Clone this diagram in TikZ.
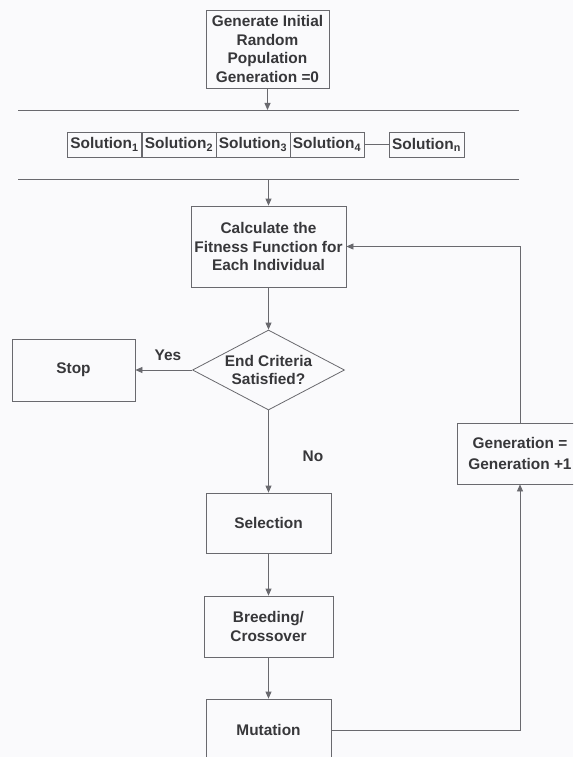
\documentclass[tikz,border=0pt]{standalone}
\usepackage{fontspec}
\setmainfont{Liberation Sans}
\usetikzlibrary{arrows.meta,shapes.geometric}
\definecolor{paper}{RGB}{250,250,252}
\definecolor{ink}{RGB}{55,55,58}
\definecolor{wire}{RGB}{105,105,110}
\tikzset{
  every node/.style={text=ink, font=\fontsize{15.4}{18.4}\selectfont\bfseries},
  procbox/.style={draw=wire, line width=0.8pt, rectangle, align=center, inner sep=0pt},
  solbox/.style={draw=wire, line width=0.8pt, rectangle, inner sep=0pt,
    minimum width=74pt, minimum height=25pt},
  decision/.style={draw=wire, line width=0.8pt, diamond, aspect=1.9, inner sep=0pt,
    align=center, minimum width=152pt, minimum height=80pt},
  wireline/.style={draw=wire, line width=0.8pt},
  arr/.style={wireline, -{Triangle[length=7pt,width=6pt]}},
  tag/.style={inner sep=0pt}
}
\begin{document}
\begin{tikzpicture}[x=1pt,y=-1pt]
  \useasboundingbox (0,0) rectangle (573,757);
  \clip (0,0) rectangle (573,757);
  \fill[paper] (0,0) rectangle (573,757);

  % initial population
  \node[procbox, minimum width=123pt, minimum height=78pt] (init) at (267.5,49)
    {Generate Initial\\Random\\Population\\Generation =0};

  % separator lines framing the population
  \coordinate (l1a) at (18,110);
  \coordinate (l1b) at (519,110);
  \coordinate (l2a) at (18,179);
  \coordinate (l2b) at (519,179);
  \draw[wireline] (l1a) -- (l1b);
  \draw[wireline] (l2a) -- (l2b);
  \draw[arr] (init.south) -- (init.south |- l1a);

  % population members
  \node[solbox] (s1) at (104.5,144.5) {Solution\textsubscript{1}};
  \node[solbox] (s2) at (179,144.5) {Solution\textsubscript{2}};
  \node[solbox] (s3) at (253,144.5) {Solution\textsubscript{3}};
  \node[solbox] (s4) at (327,144.5) {Solution\textsubscript{4}};
  \node[solbox, minimum width=75pt] (sn) at (426.5,144.5) {Solution\textsubscript{n}};
  \draw[wireline] (s4.east) -- (sn.west);

  % fitness evaluation
  \node[procbox, minimum width=155pt, minimum height=81pt] (calc) at (268.5,246.5)
    {Calculate the\\Fitness Function for\\Each Individual};
  \draw[arr] (calc.north |- l2a) -- (calc.north);

  % termination test
  \node[decision] (test) at (268.5,370) {End Criteria\\Satisfied?};
  \draw[arr] (calc.south) -- (test.north);

  \node[procbox, minimum width=123pt, minimum height=62pt] (stop) at (73.5,370) {Stop};
  \draw[arr] (test.west) -- (stop.east);
  \node[tag] (yes) at (168,355) {Yes};

  % genetic operators
  \node[procbox, minimum width=125pt, minimum height=60pt] (sel) at (268.5,523) {Selection};
  \draw[arr] (test.south) -- (sel.north);
  \node[tag] (no) at (313,456) {No};

  \node[procbox, minimum width=129pt, minimum height=61pt] (breed) at (268.5,626.5)
    {Breeding/\\Crossover};
  \draw[arr] (sel.south) -- (breed.north);

  \node[procbox, minimum width=125pt, minimum height=62pt] (mut) at (268.5,730) {Mutation};
  \draw[arr] (breed.south) -- (mut.north);

  % next generation loop
  \node[procbox, minimum width=126pt, minimum height=61pt,
        font=\fontsize{15.4}{20.5}\selectfont\bfseries] (gen) at (520,453.5)
    {Generation =\\Generation +1};
  \draw[arr] (mut.east) -| (gen.south);
  \draw[arr] (gen.north) |- (calc.east);
\end{tikzpicture}
\end{document}
